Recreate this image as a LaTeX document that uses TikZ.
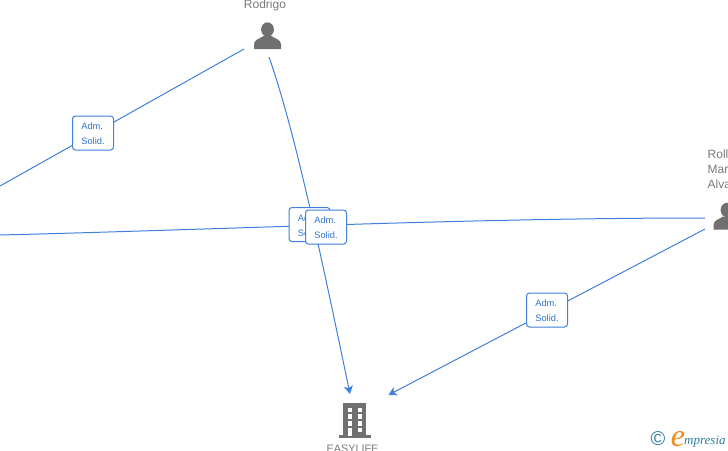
\documentclass[tikz,border=0pt]{standalone}
\usepackage{fontspec}
\setmainfont{Liberation Sans}
\newfontfamily\logofont{Liberation Serif}
\usetikzlibrary{arrows.meta}
\definecolor{linkblue}{HTML}{3F80DC}
\definecolor{labelblue}{HTML}{2F74D0}
\definecolor{icongrey}{HTML}{707070}
\definecolor{textgrey}{HTML}{7A7A7A}
\definecolor{logoteal}{HTML}{2E7D9A}
\definecolor{logoorange}{HTML}{F08A1D}
\newcommand{\rolelines}{\rule{0pt}{8.3pt}Adm.\\Solid.}
\tikzset{
  link/.style={draw=linkblue,line width=1pt},
  arrowlink/.style={link,-{Stealth[length=8pt,width=9pt,inset=2pt]}},
  rolebox/.style={draw=linkblue,line width=1pt,fill=white,rounded corners=3pt,minimum width=41pt,minimum height=34pt,inner sep=0pt,align=left,text=labelblue,font=\fontsize{9.3}{15}\selectfont},
  nametext/.style={text=textgrey,font=\fontsize{12}{15}\selectfont,inner sep=0pt},
  person/.pic={
    \fill[icongrey] (0,-6.5) ellipse (6.4 and 7.2);
    \fill[icongrey] (-13.5,13) -- (-13.5,8.5) .. controls (-13.5,3.5) and (-8,3) .. (-4,0) -- (4,0) .. controls (8,3) and (13.5,3.5) .. (13.5,8.5) -- (13.5,13) -- cycle;
  }
}
\begin{document}
\begin{tikzpicture}[x=1pt,y=-1pt]
\useasboundingbox (0,0) rectangle (728,450);
\clip (0,0) rectangle (728,450);
\fill[white] (0,0) rectangle (728,450);
% end points
\coordinate (leftA) at (0,186);
\coordinate (leftB) at (0,235);
\coordinate (rodL) at (244,49);
\coordinate (rodD) at (269,57);
\coordinate (rolL) at (705,218);
\coordinate (rolD) at (705,229);
\coordinate (easyT) at (350,394);
\coordinate (easyR) at (388.5,395);
% connectors
\draw[link] (leftA) -- (rodL);
\draw[arrowlink] (rodD) .. controls (293,125) and (318,240) .. (easyT);
\draw[link] (leftB) .. controls (240,229) and (470,218) .. (rolL);
\draw[arrowlink] (rolD) -- (easyR);
% role boxes
\node[rolebox] (b1) at (93,133) {\rolelines};
\node[rolebox] (b2) at (309.5,224.5) {\rolelines};
\node[rolebox] (b3) at (326,227) {\rolelines};
\node[rolebox] (b4) at (547,310) {\rolelines};
% people
\pic at (267.5,36) {person};
\pic at (727,216.5) {person};
\node[nametext,anchor=base] (rodrigo) at (265,8) {Rodrigo};
\node[nametext,anchor=base west] (rol1) at (707.5,158) {Roll};
\node[nametext,anchor=base west] (rol2) at (707.5,173) {Mar};
\node[nametext,anchor=base west] (rol3) at (707.5,188) {Alva};
% building
\fill[icongrey] (343,403) rectangle (366,436);
\fill[icongrey] (339,435) rectangle (371,437.5);
\foreach \x in {347.5,357.5}
  \foreach \y/\h in {407.5/4.5,414/4.5,421/4.5}
    \fill[white] (\x,\y) rectangle ++(4.5,\h);
\fill[white] (347.5,427.5) rectangle ++(4.5,8);
\fill[white] (357.5,427.5) rectangle ++(4.5,4.5);
\node[nametext,anchor=base,font=\fontsize{10.8}{15}\selectfont] (easy) at (352.5,452.5) {EASYLIFE};
% logo
\node[text=logoteal,font=\fontsize{20}{20}\selectfont,inner sep=0pt] (copyr) at (658,439) {©};
\node[text=logoorange,font=\logofont\itshape\fontsize{32}{32}\selectfont,inner sep=0pt,anchor=base] (loge) at (678,446) {e};
\node[text=logoteal,font=\logofont\itshape\fontsize{13}{13}\selectfont,inner sep=0pt,anchor=base west] (logt) at (684,444) {mpresia};
\end{tikzpicture}
\end{document}
